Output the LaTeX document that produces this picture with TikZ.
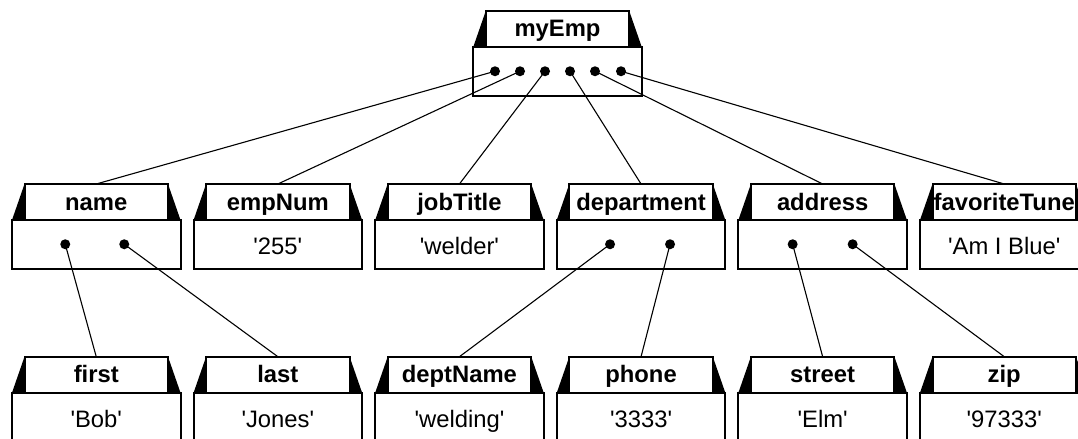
\documentclass[tikz,border=0pt]{standalone}
\usepackage{fontspec}
\newfontfamily\arial{Liberation Sans}
\begin{document}
\begin{tikzpicture}[x=0.5pt,y=-0.5pt,
  tabbox/.style={draw,line width=1pt,outer sep=0pt,inner sep=0pt,anchor=north,
    text height=8pt,text depth=0pt,
    minimum width=71.75pt,minimum height=18pt,font=\arial\bfseries\fontsize{11.9}{13}\selectfont},
  valbox/.style={draw,line width=1pt,outer sep=0pt,inner sep=0pt,anchor=north,
    text height=10.4pt,text depth=0pt,
    minimum width=84.25pt,minimum height=24.25pt,font=\arial\fontsize{11.9}{13}\selectfont},
  dot/.style={circle,fill=black,inner sep=0pt,minimum size=5pt},
  conn/.style={line width=0.55pt}]
\useasboundingbox (0,0) rectangle (1078,439);
\newcommand\rec[5]{%
  \node[tabbox] (#1t) at (#2,#3) {#4};
  \node[valbox] (#1b) at (#1t.south) {#5};
  \fill (#1t.north west) -- (#1b.north west) -- (#1t.south west) -- cycle;
  \fill (#1t.north east) -- (#1b.north east) -- (#1t.south east) -- cycle;
}
% root
\rec{emp}{557.5}{11}{myEmp}{}
% middle row
\rec{name}{96.25}{184}{name}{}
\rec{num}{277.85}{184}{empNum}{'255'}
\rec{job}{459.45}{184}{jobTitle}{'welder'}
\rec{dep}{641.05}{184}{department}{}
\rec{addr}{822.65}{184}{address}{}
\rec{tune}{1004.25}{184}{favoriteTune}{'Am I Blue'}
% bottom row
\rec{first}{96.25}{356.7}{first}{'Bob'}
\rec{last}{277.85}{356.7}{last}{'Jones'}
\rec{dname}{459.45}{356.7}{deptName}{'welding'}
\rec{phone}{641.05}{356.7}{phone}{'3333'}
\rec{street}{822.65}{356.7}{street}{'Elm'}
\rec{zip}{1004.25}{356.7}{zip}{'97333'}
% dots in root
\path (empb.center) ++(-62.5,0) node[dot] (e1) {};
\path (empb.center) ++(-37.5,0) node[dot] (e2) {};
\path (empb.center) ++(-12.5,0) node[dot] (e3) {};
\path (empb.center) ++(12.5,0) node[dot] (e4) {};
\path (empb.center) ++(37.5,0) node[dot] (e5) {};
\path (empb.center) ++(63.5,0) node[dot] (e6) {};
% dots in middle row
\path (nameb.center) ++(-31,0) node[dot] (n1) {};
\path (nameb.center) ++(28,0) node[dot] (n2) {};
\path (depb.center) ++(-31,0) node[dot] (d1) {};
\path (depb.center) ++(29,0) node[dot] (d2) {};
\path (addrb.center) ++(-30,0) node[dot] (a1) {};
\path (addrb.center) ++(30,0) node[dot] (a2) {};
% connectors
\draw[conn] (e1.center) -- (namet.north);
\draw[conn] (e2.center) -- (numt.north);
\draw[conn] (e3.center) -- (jobt.north);
\draw[conn] (e4.center) -- (dept.north);
\draw[conn] (e5.center) -- (addrt.north);
\draw[conn] (e6.center) -- (tunet.north);
\draw[conn] (n1.center) -- (firstt.north);
\draw[conn] (n2.center) -- (lastt.north);
\draw[conn] (d1.center) -- (dnamet.north);
\draw[conn] (d2.center) -- (phonet.north);
\draw[conn] (a1.center) -- (streett.north);
\draw[conn] (a2.center) -- (zipt.north);
\end{tikzpicture}
\end{document}
